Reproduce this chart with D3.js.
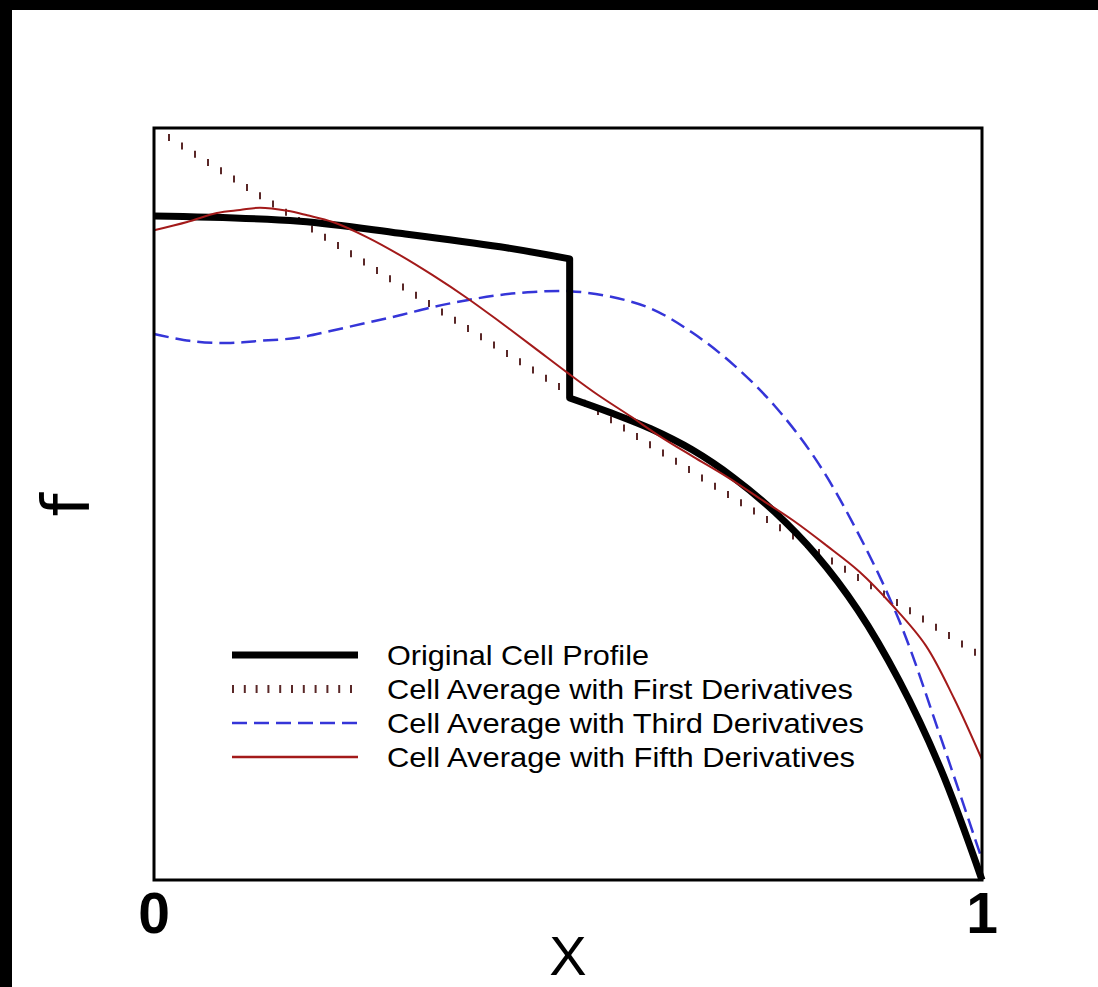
<!DOCTYPE html>
<html>
<head>
<meta charset="utf-8">
<script src="https://cdn.jsdelivr.net/npm/d3@7"></script>
<style>
  html, body { margin: 0; padding: 0; background: #000; }
  svg { display: block; }
  text { font-family: "Liberation Sans", Arial, sans-serif; fill: #000; }
</style>
</head>
<body>
<script>
// values, x in [0,1], f in [0,1]
var xTicks = [0, 1];
var xTickLabels = ["0", "1"];

// original profile has a jump at x ~ 0.5
var originalLeft = [
  [0, 0.883], [0.176, 0.876], [0.297, 0.860], [0.418, 0.842], [0.502, 0.826]
];
var originalRight = [
  [0.502, 0.641], [0.55, 0.622], [0.6, 0.600], [0.65, 0.572], [0.7, 0.535],
  [0.75, 0.489], [0.8, 0.432], [0.85, 0.359], [0.9, 0.265], [0.95, 0.148], [1, 0]
];

var firstDeriv = [[0, 1.0], [1, 0.297]];

var thirdDeriv = [
  [0, 0.726], [0.043, 0.717], [0.088, 0.714], [0.128, 0.717], [0.173, 0.721],
  [0.213, 0.730], [0.257, 0.741], [0.297, 0.751], [0.337, 0.762], [0.378, 0.771],
  [0.418, 0.778], [0.458, 0.782], [0.502, 0.783], [0.55, 0.776], [0.6, 0.760],
  [0.65, 0.728], [0.7, 0.685], [0.75, 0.630], [0.8, 0.558], [0.85, 0.462],
  [0.9, 0.345], [0.95, 0.190], [1, 0.027]
];

var fifthDeriv = [
  [0, 0.864], [0.040, 0.875], [0.076, 0.887], [0.104, 0.891], [0.128, 0.894],
  [0.161, 0.890], [0.185, 0.884], [0.216, 0.875], [0.257, 0.855], [0.297, 0.831],
  [0.337, 0.804], [0.378, 0.774], [0.418, 0.742], [0.458, 0.709], [0.500, 0.674],
  [0.535, 0.646], [0.575, 0.617], [0.611, 0.590], [0.651, 0.563], [0.692, 0.536],
  [0.732, 0.507], [0.772, 0.478], [0.812, 0.445], [0.852, 0.410], [0.892, 0.365],
  [0.932, 0.312], [0.966, 0.242], [1, 0.160]
];

var legendLabels = [
  "Original Cell Profile",
  "Cell Average with First Derivatives",
  "Cell Average with Third Derivatives",
  "Cell Average with Fifth Derivatives"
];
var legendWidths = [262, 466, 477, 468];

var width = 1098, height = 987;
var margin = {top: 128, right: 116, bottom: 107, left: 154};

var svg = d3.select("body").append("svg")
    .attr("width", width)
    .attr("height", height);

// white page, black edge at top and left
svg.append("rect")
    .attr("x", 12).attr("y", 10)
    .attr("width", width - 12).attr("height", height - 10)
    .attr("fill", "#fff");

var x = d3.scaleLinear().domain([0, 1]).range([margin.left, width - margin.right]);
var y = d3.scaleLinear().domain([0, 1]).range([height - margin.bottom, margin.top]);

var smooth = d3.line().curve(d3.curveCatmullRom)
    .x(function(d) { return x(d[0]); }).y(function(d) { return y(d[1]); });

// first derivative: little vertical ticks along a straight line
var lineY = d3.scaleLinear().domain(firstDeriv.map(function(d) { return d[0]; }))
    .range(firstDeriv.map(function(d) { return d[1]; }));
var tickXs = d3.range(x(0) + 15, x(1), 13).map(function(px) { return x.invert(px); });

svg.append("g").selectAll("line")
    .data(tickXs)
  .enter().append("line")
    .attr("x1", function(d) { return x(d); })
    .attr("x2", function(d) { return x(d); })
    .attr("y1", function(d) { return y(lineY(d)) - 3.5; })
    .attr("y2", function(d) { return y(lineY(d)) + 3.5; })
    .attr("stroke", "#5a2828")
    .attr("stroke-width", 2);

svg.append("path")
    .datum(thirdDeriv)
    .attr("d", smooth)
    .attr("fill", "none")
    .attr("stroke", "#3535d8")
    .attr("stroke-width", 2.5)
    .attr("stroke-dasharray", "15 7");

svg.append("path")
    .attr("d", smooth(originalLeft) + smooth(originalRight).replace(/^M/, "L"))
    .attr("fill", "none")
    .attr("stroke", "#000")
    .attr("stroke-width", 7)
    .attr("stroke-linejoin", "round");

svg.append("path")
    .datum(fifthDeriv)
    .attr("d", smooth)
    .attr("fill", "none")
    .attr("stroke", "#a31a1a")
    .attr("stroke-width", 2);

// frame
svg.append("rect")
    .attr("x", x(0)).attr("y", y(1))
    .attr("width", x(1) - x(0)).attr("height", y(0) - y(1))
    .attr("fill", "none")
    .attr("stroke", "#000")
    .attr("stroke-width", 3);

// x tick labels
svg.append("g").selectAll("text")
    .data(xTicks)
  .enter().append("text")
    .attr("x", function(d) { return x(d); })
    .attr("y", y(0) + 53)
    .attr("text-anchor", "middle")
    .style("font-size", "57px")
    .style("font-weight", "bold")
    .text(function(d, i) { return xTickLabels[i]; });

svg.append("text")
    .attr("x", x(0.5))
    .attr("y", 975)
    .attr("text-anchor", "middle")
    .style("font-size", "56px")
    .text("X");

svg.append("text")
    .attr("transform", "translate(89,505) rotate(-90)")
    .attr("text-anchor", "middle")
    .style("font-family", "'DejaVu Sans', sans-serif")
    .style("font-size", "66px")
    .text("f");

// legend
var legend = svg.append("g").attr("transform", "translate(232,655)");
var rowGap = 34;
var row = legend.selectAll("g")
    .data(legendLabels)
  .enter().append("g")
    .attr("transform", function(d, i) { return "translate(0," + (i * rowGap) + ")"; });

row.filter(function(d, i) { return i !== 1; }).append("line")
    .attr("x1", 0).attr("x2", 126)
    .attr("stroke", function(d, i) { return ["#000", "#3535d8", "#a31a1a"][i]; })
    .attr("stroke-width", function(d, i) { return [7, 2.5, 2.5][i]; })
    .attr("stroke-dasharray", function(d, i) { return i === 1 ? "15 7" : null; });

legend.append("g").attr("transform", "translate(0," + rowGap + ")")
    .selectAll("line")
    .data(d3.range(0, 120, 11.8))
  .enter().append("line")
    .attr("x1", function(d) { return d + 1; })
    .attr("x2", function(d) { return d + 1; })
    .attr("y1", -4).attr("y2", 4)
    .attr("stroke", "#5a2828")
    .attr("stroke-width", 2);

row.append("text")
    .attr("x", 155)
    .attr("y", 10)
    .attr("textLength", function(d, i) { return legendWidths[i]; })
    .attr("lengthAdjust", "spacingAndGlyphs")
    .style("font-size", "28px")
    .text(function(d) { return d; });
</script>
</body>
</html>
